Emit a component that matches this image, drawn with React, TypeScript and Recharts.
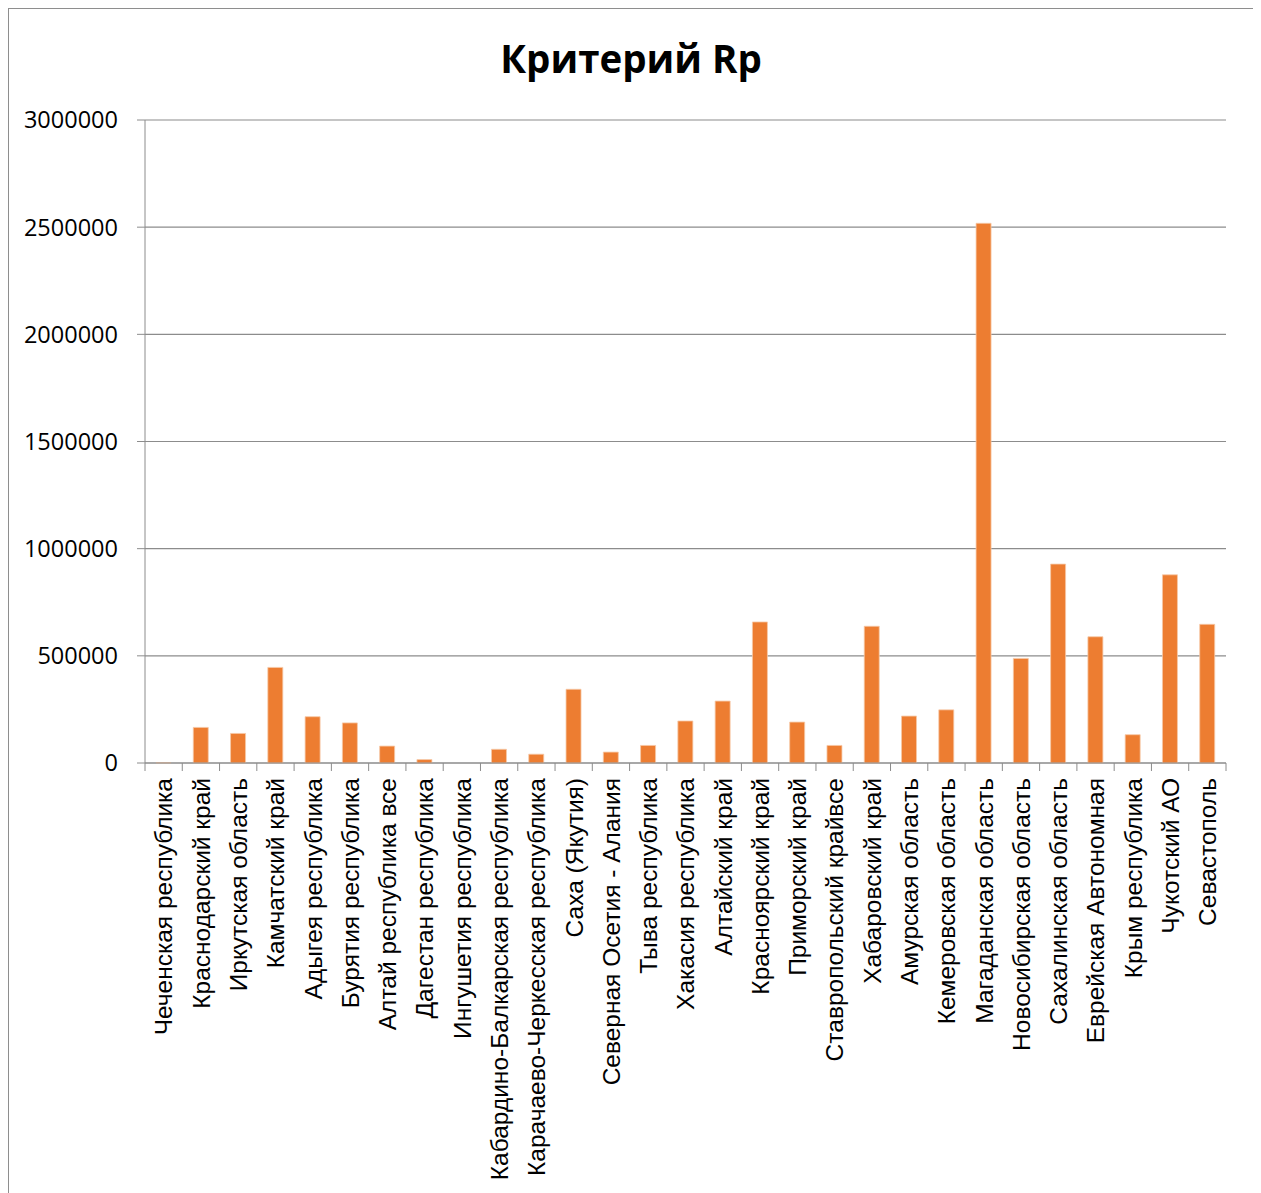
import { BarChart, Bar, XAxis, YAxis, CartesianGrid } from "recharts";

const regions = [
  "Чеченская республика",
  "Краснодарский край",
  "Иркутская область",
  "Камчатский край",
  "Адыгея республика",
  "Бурятия республика",
  "Алтай республика все",
  "Дагестан республика",
  "Ингушетия республика",
  "Кабардино-Балкарская республика",
  "Карачаево-Черкесская республика",
  "Саха (Якутия)",
  "Северная Осетия - Алания",
  "Тыва республика",
  "Хакасия республика",
  "Алтайский край",
  "Красноярский край",
  "Приморский край",
  "Ставропольский крайвсе",
  "Хабаровский край",
  "Амурская область",
  "Кемеровская область",
  "Магаданская область",
  "Новосибирская область",
  "Сахалинская область",
  "Еврейская Автономная",
  "Крым республика",
  "Чукотский АО",
  "Севастополь",
];

const rpValues = [
  1500, 166000, 138000, 446000, 216000, 187000, 79000, 16000, 0, 64000,
  41000, 344000, 51000, 82000, 196000, 289000, 658000, 191000, 82000, 638000,
  219000, 248000, 2518000, 488000, 928000, 589000, 132000, 878000, 647000,
];

const yTicks = [0, 500000, 1000000, 1500000, 2000000, 2500000, 3000000];

const data = regions.map((region, i) => ({ region, rp: rpValues[i] }));

const AXIS = "#8c8c8c";
const PLOT_W = 1081;
const HALF_BAND = PLOT_W / regions.length / 2;

const RegionTick = (props: any) => {
  const { x, y, payload, index } = props;
  return (
    <g>
      <line x1={x - HALF_BAND} y1={y} x2={x - HALF_BAND} y2={y + 8} stroke={AXIS} />
      {index === regions.length - 1 && (
        <line x1={x + HALF_BAND} y1={y} x2={x + HALF_BAND} y2={y + 8} stroke={AXIS} />
      )}
      <text
        transform={`translate(${x},${y + 15}) rotate(-90)`}
        textAnchor="end"
        dy="0.36em"
        fontSize={24.5}
        fontFamily="'Liberation Sans', Arial, sans-serif"
        fill="#000"
      >
        {payload.value}
      </text>
    </g>
  );
};

export default function App() {
  return (
    <div
      style={{
        position: "relative",
        width: 1248,
        height: 1200,
        border: "1px solid #8e8e8e",
        boxSizing: "border-box",
        background: "#fff",
      }}
    >
      {/* title */}
      <svg width={1246} height={100} style={{ position: "absolute", left: 0, top: 0 }}>
        <text
          x={622}
          y={64}
          textAnchor="middle"
          fontSize={38.5}
          fontWeight={700}
          fontFamily="'Open Sans', sans-serif"
          fill="#000"
        >
          Критерий Rp
        </text>
      </svg>

      <BarChart
        width={1246}
        height={1198}
        data={data}
        margin={{ top: 111, right: 29, left: 0, bottom: 0 }}
        barCategoryGap={0}
      >
        <CartesianGrid vertical={false} stroke={AXIS} strokeWidth={1.2} />
        <XAxis
          dataKey="region"
          interval={0}
          height={444}
          tickSize={0}
          tickMargin={0}
          tickLine={false}
          axisLine={{ stroke: AXIS, strokeWidth: 1.2 }}
          tick={<RegionTick />}
        />
        <YAxis
          width={136}
          domain={[0, 3000000]}
          ticks={yTicks}
          interval={0}
          tickSize={8}
          tickMargin={19}
          tickLine={{ stroke: AXIS }}
          axisLine={{ stroke: AXIS }}
          tick={{ fontSize: 23.5, fill: "#000", fontFamily: "'Open Sans', sans-serif" }}
        />
        <Bar
          dataKey="rp"
          fill="#ED7D31"
          stroke="#f6c9a8"
          strokeWidth={0.8}
          barSize={15}
          isAnimationActive={false}
        />
      </BarChart>
    </div>
  );
}
